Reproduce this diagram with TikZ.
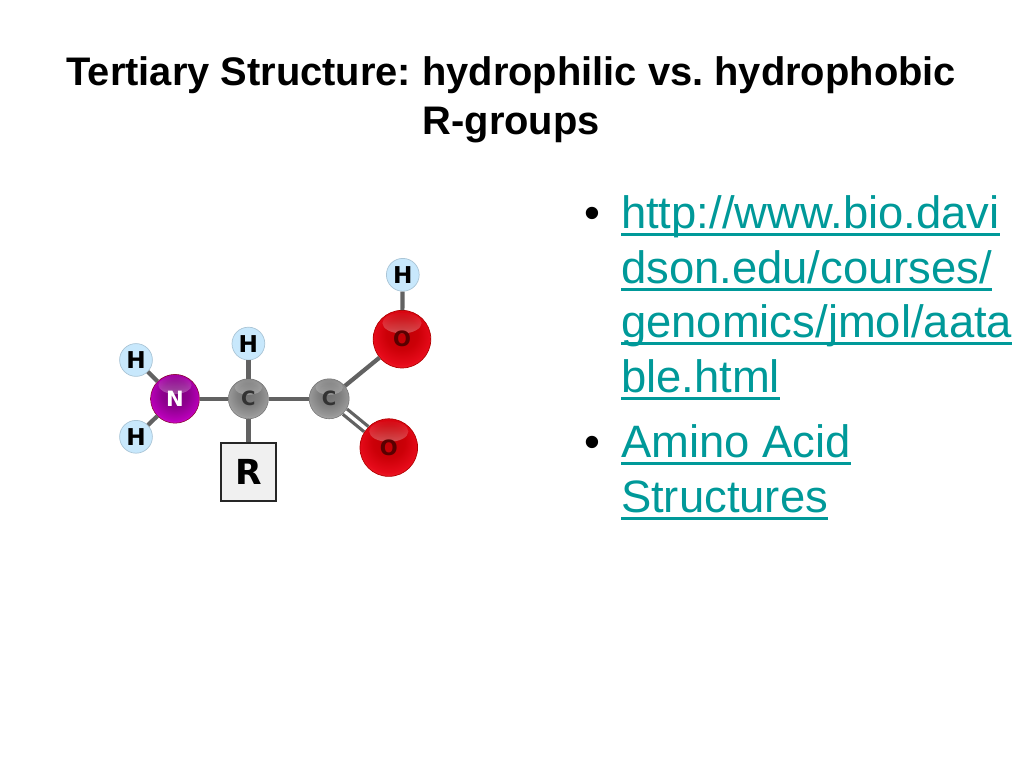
\documentclass[tikz,border=0pt]{standalone}
\usepackage{xcolor}
\usepackage{fontspec}
\usetikzlibrary{fadings}
\setmainfont{Liberation Sans}
\newfontfamily\atomfont{DejaVu Sans}
\frenchspacing
\definecolor{linkteal}{RGB}{0,153,153}
\definecolor{bondgray}{RGB}{98,98,98}
\definecolor{hydroblue}{RGB}{200,232,252}
\newcommand{\lnk}[1]{\setbox0\hbox{#1}\rlap{\rule[-5pt]{\wd0}{2.1pt}}\box0}
\pgfdeclareradialshading{redball}{\pgfpoint{0bp}{7bp}}{rgb(0bp)=(0.74,0,0.02); rgb(14bp)=(0.80,0,0.03); rgb(25bp)=(0.90,0.04,0.10); rgb(32bp)=(0.97,0.18,0.22); rgb(50bp)=(0.97,0.18,0.22)}
\pgfdeclareradialshading{grayball}{\pgfpoint{0bp}{7bp}}{rgb(0bp)=(0.44,0.44,0.44); rgb(14bp)=(0.50,0.50,0.50); rgb(25bp)=(0.60,0.60,0.60); rgb(32bp)=(0.74,0.74,0.74); rgb(50bp)=(0.74,0.74,0.74)}
\pgfdeclareradialshading{purpleball}{\pgfpoint{0bp}{7bp}}{rgb(0bp)=(0.48,0,0.48); rgb(14bp)=(0.56,0,0.56); rgb(25bp)=(0.72,0,0.72); rgb(32bp)=(0.88,0.12,0.88); rgb(50bp)=(0.88,0.12,0.88)}
\tikzset{
  gloss/.style={path picture={
    \fill[white, fill opacity=0.75, path fading=north] ([yshift=0.56*#1]path picture bounding box.center) ellipse ({0.68*#1} and {0.36*#1});
  }},
  atomH/.style={circle, draw=hydroblue!85!black, line width=0.5pt, fill=hydroblue, minimum size=0.82cm, inner sep=0pt, font=\atomfont\bfseries\fontsize{16.5pt}{16.5pt}\selectfont},
  atomC/.style={circle, draw=black!55, line width=0.4pt, shading=grayball, gloss=0.5cm, minimum size=1cm, inner sep=0pt, text=black!80, font=\atomfont\bfseries\fontsize{14pt}{14pt}\selectfont},
  atomN/.style={circle, draw=black!30!purple, line width=0.4pt, shading=purpleball, gloss=0.61cm, minimum size=1.22cm, inner sep=0pt, text=white, font=\atomfont\bfseries\fontsize{15pt}{15pt}\selectfont},
  atomO/.style={circle, draw=red!70!black, line width=0.5pt, shading=redball, gloss=0.72cm, minimum size=1.44cm, inner sep=0pt, text=black!65!red, font=\atomfont\bfseries\fontsize{15pt}{15pt}\selectfont},
  bond/.style={draw=bondgray, line width=3pt},
  dblbond/.style={draw=bondgray, line width=2.3pt, double=white, double distance=2.4pt},
  titleline/.style={anchor=base, inner sep=0pt, font=\bfseries\fontsize{28.35pt}{28.35pt}\selectfont},
  linkline/.style={anchor=base west, inner sep=0pt, text=linkteal, font=\fontsize{32.3pt}{32.3pt}\selectfont},
  bulletmark/.style={anchor=base west, inner sep=0pt, font=\fontsize{32.3pt}{32.3pt}\selectfont},
}
\begin{document}
\begin{tikzpicture}
    \useasboundingbox (0, 0) rectangle (25.6, 19.2);

    % Title
    \node[titleline] (title1) at (12.78, 17.06) {Tertiary Structure: hydrophilic vs. hydrophobic};
    \node[titleline] (title2) at (12.78, 15.84) {R-groups};

    % Atoms
    \node[atomH] (hacid) at (10.07, 12.33) {H};
    \node[atomO] (ohyd) at (10.05, 10.72) {O};
    \node[atomO] (ocarb) at (9.72, 8.01) {O};
    \node[atomC] (ccarb) at (8.23, 9.23) {C};
    \node[atomC] (calpha) at (6.21, 9.23) {C};
    \node[atomN] (nitro) at (4.375, 9.23) {N};
    \node[atomH] (hamine1) at (3.4, 10.2) {H};
    \node[atomH] (hamine2) at (3.4, 8.28) {H};
    \node[atomH] (halpha) at (6.21, 10.61) {H};
    \node[draw=black!85, line width=1.5pt, fill=black!6, minimum width=1.375cm, minimum height=1.45cm, inner sep=0pt, font=\atomfont\bfseries\fontsize{24.5pt}{24.5pt}\selectfont] (rgroup) at (6.21, 7.41) {R};

    % Bonds
    \draw[bond] (hacid) -- (ohyd);
    \draw[bond] (ohyd) -- (ccarb);
    \draw[dblbond] (ccarb) -- (ocarb);
    \draw[bond] (ccarb) -- (calpha);
    \draw[bond] (calpha) -- (nitro);
    \draw[bond] (calpha) -- (halpha);
    \draw[bond] (calpha) -- (rgroup);
    \draw[bond] (nitro) -- (hamine1);
    \draw[bond] (nitro) -- (hamine2);

    % Links
    \node[bulletmark] (bullet1) at (14.6, 13.475) {•};
    \node[linkline] (link1) at (15.52, 13.475) {\lnk{http://www.bio.davi}};
    \node[linkline] (link2) at (15.52, 12.1) {\lnk{dson.edu/courses/}};
    \node[linkline] (link3) at (15.52, 10.75) {\lnk{genomics/jmol/aata}};
    \node[linkline] (link4) at (15.52, 9.375) {\lnk{ble.html}};
    \node[bulletmark] (bullet2) at (14.6, 7.755) {•};
    \node[linkline] (link5) at (15.52, 7.755) {\lnk{Amino Acid}};
    \node[linkline] (link6) at (15.52, 6.375) {\lnk{Structures}};
\end{tikzpicture}
\end{document}
